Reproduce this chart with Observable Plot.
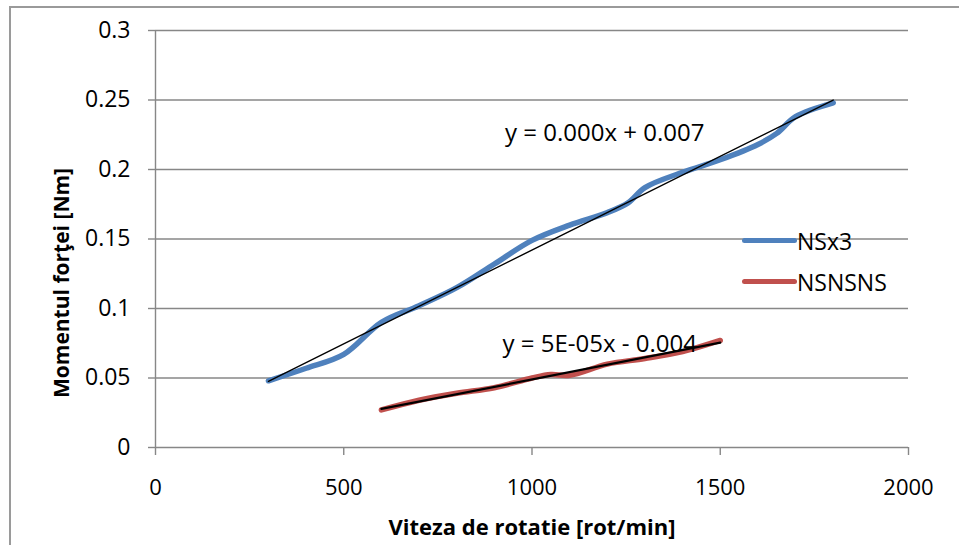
<!DOCTYPE html>
<html>
<head>
<meta charset="utf-8">
<script src="https://cdn.jsdelivr.net/npm/d3@7"></script>
<script src="https://cdn.jsdelivr.net/npm/@observablehq/plot@0.6"></script>
<style>
  html, body { margin: 0; padding: 0; background: #fff; }
  #wrap { position: relative; width: 959px; height: 545px; overflow: hidden; font-family: "Open Sans", sans-serif; }
  #frame { position: absolute; left: 9px; top: 6px; right: -5px; bottom: -5px; border-left: 2px solid #9a9a9a; border-top: 2px solid #9a9a9a; pointer-events: none; }
  #legend { position: absolute; left: 742px; top: 220px; font-size: 23px; color: #000; }
  .item { display: flex; align-items: center; height: 41px; }
  .sw { display: inline-block; width: 55px; height: 5px; border-radius: 3px; margin-right: 0px; }
</style>
</head>
<body>
<div id="wrap">
  <div id="chart"></div>
  <div id="frame"></div>
  <div id="legend"></div>
</div>
<script>
// ---- data ----
const seriesNames = ["NSx3", "NSNSNS"];
const seriesColors = ["#4F81BD", "#C0504D"];

const speedNSx3  = [300, 400, 500, 600, 700, 800, 900, 1000, 1100, 1200, 1255, 1300, 1400, 1500, 1600, 1650, 1700, 1800];
const torqueNSx3 = [0.048, 0.057, 0.067, 0.090, 0.102, 0.115, 0.132, 0.149, 0.160, 0.169, 0.176, 0.187, 0.198, 0.207, 0.218, 0.226, 0.238, 0.248];

const speedNSNSNS  = [600, 700, 800, 900, 1000, 1050, 1100, 1200, 1300, 1400, 1500];
const torqueNSNSNS = [0.027, 0.034, 0.039, 0.043, 0.050, 0.0525, 0.052, 0.060, 0.064, 0.069, 0.077];

const xTicks = [0, 500, 1000, 1500, 2000];
const yTicks = [0, 0.05, 0.1, 0.15, 0.2, 0.25, 0.3];
const yTickLabels = ["0", "0.05", "0.1", "0.15", "0.2", "0.25", "0.3"];

const xTitle = "Viteza de rotatie [rot/min]";
const yTitle = "Momentul forţei [Nm]";

const eqLabels = ["y = 0.000x + 0.007", "y = 5E-05x - 0.004"];
const eqX = [1193, 1180];
const eqY = [0.226, 0.074];

// ---- build tables ----
const nsx3 = speedNSx3.map((s, i) => ({speed: s, torque: torqueNSx3[i]}));
const nsnsns = speedNSNSNS.map((s, i) => ({speed: s, torque: torqueNSNSNS[i]}));
const eqs = eqLabels.map((t, i) => ({text: t, x: eqX[i], y: eqY[i]}));

const font = "'Open Sans', sans-serif";
const gray = "#878787";

const chart = Plot.plot({
  width: 959,
  height: 545,
  marginLeft: 155,
  marginRight: 51,
  marginTop: 30,
  marginBottom: 98,
  style: {fontFamily: font, fontSize: "23px", color: "#000", background: "transparent"},
  x: {domain: [0, 2000]},
  y: {domain: [0, 0.3]},
  marks: [
    Plot.gridY(yTicks, {stroke: gray, strokeOpacity: 1, strokeWidth: 1.4}),
    Plot.ruleX([0], {y1: 0, y2: 0.3, stroke: gray, strokeWidth: 1.4}),
    Plot.axisY(yTicks, {tickSize: 7, tickPadding: 18, stroke: gray, strokeWidth: 1.4,
      tickFormat: (d) => yTickLabels[yTicks.indexOf(d)], label: null, fontSize: 23, fill: "#000"}),
    Plot.axisX(xTicks, {tickSize: 8, tickPadding: 24, stroke: gray, strokeWidth: 1.4,
      tickFormat: (d) => String(d), label: null, fontSize: 22, fill: "#000"}),
    Plot.line(nsx3, {x: "speed", y: "torque", stroke: seriesColors[0], strokeWidth: 5.5, curve: "catmull-rom", strokeLinecap: "round", strokeLinejoin: "round"}),
    Plot.line(nsnsns, {x: "speed", y: "torque", stroke: seriesColors[1], strokeWidth: 5.5, curve: "catmull-rom", strokeLinecap: "round", strokeLinejoin: "round"}),
    Plot.linearRegressionY(nsx3, {x: "speed", y: "torque", stroke: "#000", strokeWidth: 1.4, ci: 0}),
    Plot.linearRegressionY(nsnsns, {x: "speed", y: "torque", stroke: "#000", strokeWidth: 2.2, ci: 0}),
    Plot.text(eqs, {x: "x", y: "y", text: "text", fontSize: 24, fill: "#000", textAnchor: "middle", lineAnchor: "middle"}),
    Plot.text([xTitle], {frameAnchor: "bottom", dy: 80, textAnchor: "middle", lineAnchor: "middle", fontSize: 22, fontWeight: "bold", fill: "#000"}),
    Plot.text([yTitle], {frameAnchor: "left", dx: -93, dy: 44, rotate: -90, textAnchor: "middle", lineAnchor: "middle", fontSize: 21, fontWeight: "bold", fill: "#000"})
  ]
});
document.getElementById("chart").appendChild(chart);

// legend
const legend = document.getElementById("legend");
seriesNames.forEach((name, i) => {
  const row = document.createElement("div");
  row.className = "item";
  const sw = document.createElement("span");
  sw.className = "sw";
  sw.style.background = seriesColors[i];
  const label = document.createElement("span");
  label.textContent = name;
  row.appendChild(sw);
  row.appendChild(label);
  legend.appendChild(row);
});
</script>
</body>
</html>
